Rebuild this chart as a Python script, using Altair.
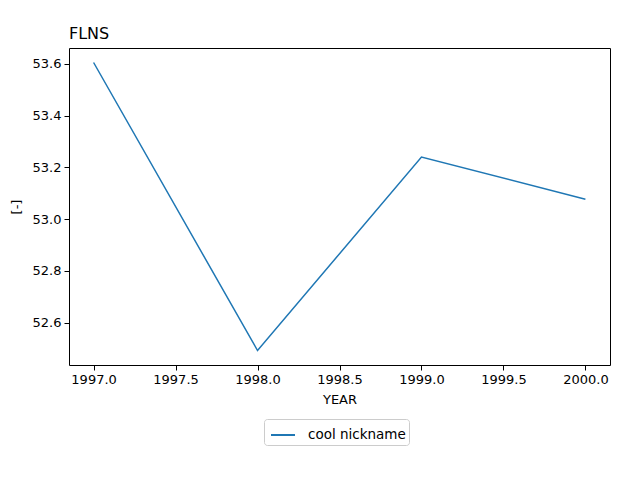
import altair as alt
import pandas as pd

years = [1997, 1998, 1999, 2000]
values = [53.605, 52.493, 53.240, 53.077]
series = ["cool nickname"] * 4

df = pd.DataFrame({"YEAR": years, "value": values, "series": series})

font = "DejaVu Sans"

chart = alt.Chart(df).mark_line(color="#1f77b4", strokeWidth=1.5, clip=True).encode(
    x=alt.X("YEAR:Q", scale=alt.Scale(domain=[1996.85, 2000.15], nice=False, zero=False),
            axis=alt.Axis(title="YEAR", values=[1997.0, 1997.5, 1998.0, 1998.5, 1999.0, 1999.5, 2000.0],
                          format=".1f", grid=False, tickColor="black", domain=False,
                          labelColor="black", titleColor="black", labelFontSize=13,
                          titleFontSize=13, titleFontWeight="normal", labelFont=font,
                          titleFont=font, tickSize=5, labelPadding=3, titlePadding=7)),
    y=alt.Y("value:Q", scale=alt.Scale(domain=[52.437, 53.661], nice=False, zero=False),
            axis=alt.Axis(title="[-]", values=[52.6, 52.8, 53.0, 53.2, 53.4, 53.6],
                          format=".1f", grid=False, tickColor="black", domain=False,
                          labelColor="black", titleColor="black", labelFontSize=13,
                          titleFontSize=13, titleFontWeight="normal", labelFont=font,
                          titleFont=font, tickSize=5, labelPadding=3, titlePadding=9)),
    stroke=alt.Stroke("series:N", scale=alt.Scale(range=["#1f77b4"]),
                      legend=alt.Legend(title=None, orient="none", legendX=195, legendY=371,
                                        symbolType="stroke", symbolStrokeWidth=2, symbolSize=576,
                                        symbolOffset=3,
                                        labelFontSize=13.5, labelFont=font, labelColor="black",
                                        strokeColor="#cccccc", padding=3, cornerRadius=3,
                                        fillColor="white", labelOffset=12)),
).properties(
    width=541, height=317,
    title=alt.TitleParams("FLNS", anchor="start", frame="group", fontSize=16, font=font,
                          fontWeight="normal", color="black", offset=6),
    autosize=alt.AutoSizeParams(type="none"),
    padding={"left": 61, "top": 40, "right": 14, "bottom": 100},
).configure_view(stroke="black", strokeWidth=1)

chart.save("out.html", embed_options={"renderer": "svg", "actions": False})
